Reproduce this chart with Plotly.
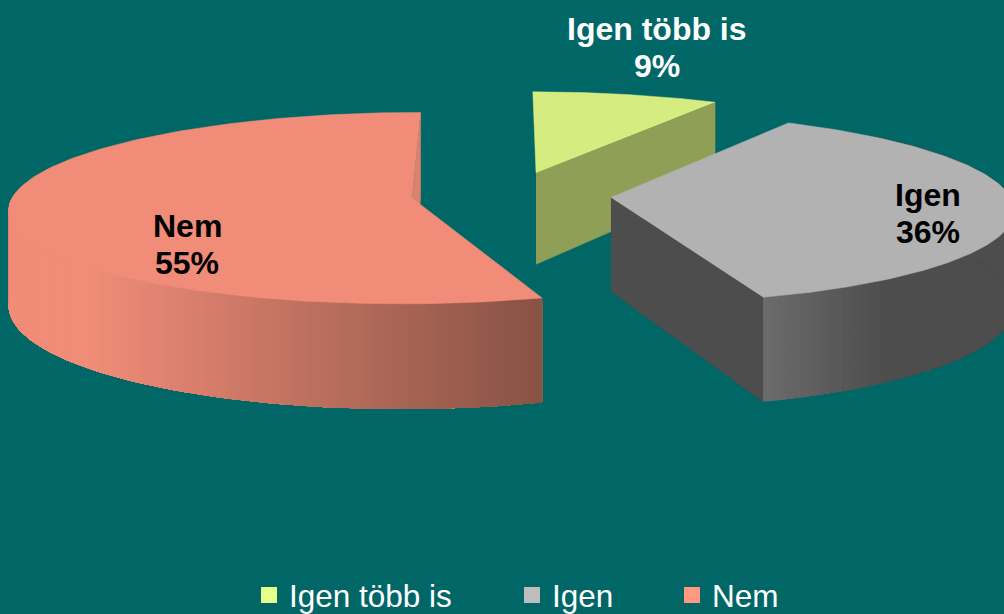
import numpy as np
import plotly.graph_objects as go

# Data
categories = ["Igen több is", "Igen", "Nem"]
shares = [8.5, 36.4, 55.1]
pct_labels = ["9%", "36%", "55%"]

# Styles
top_colors = ["#D5EC80", "#B2B2B2", "#F08C78"]
legend_colors = ["#E6FF8C", "#BEBEBE", "#FF9980"]
label_colors = ["#FFFFFF", "#000000", "#000000"]
BG = "#006666"
W, H = 1004, 614

# Projection of the exploded pie
XV, D, YH, PH, R, RD, T = 502.0, 3857.0, -697.0, 895.0, 400.0, 408.0, 94.0
offsets = [(35.0, 111.0), (109.0, 2.0), (-90.0, 0.0)]


def project(X, Y, down=0.0):
    s = D / (D + np.asarray(Y, float))
    return XV + np.asarray(X, float) * s, YH + (PH + down) * s


ends = np.cumsum(shares) / sum(shares) * 2 * np.pi
starts = np.concatenate([[0.0], ends[:-1]])


def rim(i, a, b, n=160, down=0.0):
    th = np.linspace(a, b, n)
    ox, oy = offsets[i]
    return project(ox + R * np.sin(th), oy + RD * np.cos(th), down)


def apex(i, down=0.0):
    ox, oy = offsets[i]
    x, y = project(ox, oy, down)
    return float(x), float(y)


def poly(fig, xs, ys, color, line=0.8):
    fig.add_trace(go.Scatter(
        x=list(xs), y=list(ys), mode="lines", fill="toself", fillcolor=color,
        line=dict(color=color, width=line), hoverinfo="skip", showlegend=False))


def mix(c1, c2, t):
    t = min(max(t, 0.0), 1.0)
    return "rgb(%d,%d,%d)" % tuple(round(p + (q - p) * t) for p, q in zip(c1, c2))


def rim_strips(fig, i, a, b, shade, n=40):
    # painter's order: each band runs on to the far end, so no seams show
    edges = np.linspace(a, b, n + 1)
    for e0 in edges[:-1]:
        m = max(4, int((b - e0) / (b - a) * 80))
        tx, ty = rim(i, e0, b, m)
        bx, by = rim(i, e0, b, m, T)
        poly(fig, np.r_[tx, bx[::-1]], np.r_[ty, by[::-1]], shade(tx[0]), 0)


def side_wall(fig, i, angle, color):
    ax, ay = apex(i)
    bx, by = apex(i, T)
    tx, ty = rim(i, angle, angle, 1)
    rx, ry = rim(i, angle, angle, 1, T)
    poly(fig, [ax, tx[0], rx[0], bx], [ay, ty[0], ry[0], by], color, 0.5)


def top(fig, i):
    ax, ay = apex(i)
    rx, ry = rim(i, starts[i], ends[i])
    poly(fig, np.r_[ax, rx], np.r_[ay, ry], top_colors[i], 0.5)


fig = go.Figure()

# Igen több is: only the cut wall and the top show
side_wall(fig, 0, ends[0], "#8F9F56")
top(fig, 0)

# Igen: bands run from the front corner round to the right
side_wall(fig, 1, ends[1], "#4D4D4D")
rim_strips(fig, 1, ends[1], starts[1] + 0.25,
           lambda x: mix((107, 107, 107), (77, 77, 77), (x - 762) / 120), 110)
top(fig, 1)

# Nem: bands run from the left edge to the front corner
side_wall(fig, 2, 2 * np.pi, "#D8836F")
rim_strips(fig, 2, starts[2] + np.pi * 0.62, starts[2],
           lambda x: mix((240, 140, 120), (135, 82, 68), (x - 90) / 450), 160)
top(fig, 2)

# Legend entries, one legend each so that they can be spaced as in the picture
legend_x = [249, 512, 672]
for k, (name, c) in enumerate(zip(categories, legend_colors)):
    ref = "legend" if k == 0 else f"legend{k + 1}"
    fig.add_trace(go.Scatter(
        x=[None], y=[None], mode="markers", name=name, legend=ref,
        marker=dict(symbol="square", size=17, color=c)))

legend_style = dict(
    bgcolor="rgba(0,0,0,0)", borderwidth=0, orientation="h", itemwidth=30,
    yanchor="middle", y=(H - 595) / H, xanchor="left",
    font=dict(family="Liberation Sans, Arial, sans-serif", size=31.5, color="#FFFFFF"))

# Data labels
label_pos = [(657, 29, 66), (928, 195, 232), (187, 226, 263)]
annotations = []
for name, pct, col, (lx, y1, y2) in zip(categories, pct_labels, label_colors, label_pos):
    for txt, yy in ((name, y1), (pct, y2)):
        annotations.append(dict(
            x=lx, y=yy, xref="x", yref="y", text=txt, showarrow=False,
            xanchor="center", yanchor="middle",
            font=dict(family="Liberation Sans, Arial, sans-serif", size=32,
                      color=col, weight="bold")))

fig.update_layout(
    width=W, height=H, autosize=False,
    paper_bgcolor=BG, plot_bgcolor=BG,
    margin=dict(l=0, r=0, t=0, b=0, autoexpand=False),
    xaxis=dict(range=[0, W], visible=False, fixedrange=True),
    yaxis=dict(range=[H, 0], visible=False, fixedrange=True),
    annotations=annotations,
    legend=dict(x=legend_x[0] / W, **legend_style),
    legend2=dict(x=legend_x[1] / W, **legend_style),
    legend3=dict(x=legend_x[2] / W, **legend_style),
)
fig.write_html("out.html", config=dict(displayModeBar=False),
               post_script="document.body.style.margin='0';document.body.style.background='#006666';document.body.style.overflow='hidden';")
